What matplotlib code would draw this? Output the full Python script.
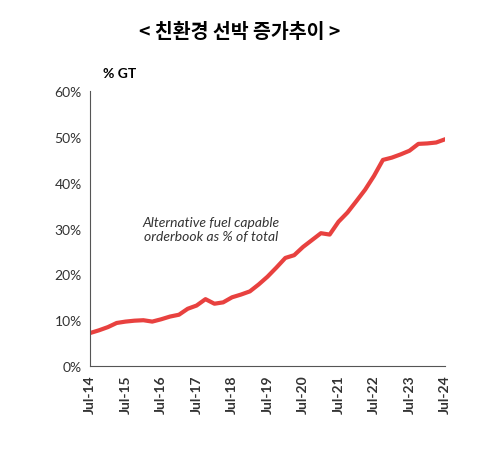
import matplotlib
matplotlib.use("Agg")
import matplotlib.pyplot as plt
import pandas as pd

plt.rcParams['font.family'] = ['Noto Sans CJK KR', 'DejaVu Sans']

values = [7.2, 7.8, 8.5, 9.4, 9.7, 9.9, 10.0, 9.7, 10.2, 10.8, 11.2, 12.5, 13.2, 14.6,
          13.6, 13.9, 15.0, 15.6, 16.3, 17.8, 19.5, 21.5, 23.6, 24.2, 26.0, 27.5, 29.0,
          28.7, 31.5, 33.5, 36.0, 38.5, 41.5, 45.0, 45.5, 46.2, 47.0, 48.5, 48.6, 48.8, 49.5]
dates = pd.date_range("2014-07-01", periods=len(values), freq="QS-JUL")
tick_years = list(range(2014, 2025))
tick_labels = [f"Jul-{y % 100:02d}" for y in tick_years]

fig = plt.figure(figsize=(4.79, 4.52), dpi=100)
ax = fig.add_axes([0.188, 0.188, 0.741, 0.608])
ax.plot(dates, values, color="#e8413f", lw=3)
ax.set_ylim(0, 60)
ax.set_xlim(pd.Timestamp("2014-07-01"), pd.Timestamp("2024-07-01"))
ax.set_yticks(range(0, 61, 10))
ax.set_yticklabels([f"{v}%" for v in range(0, 61, 10)], fontsize=10, color="#333333", family="Lato")
ax.set_xticks([pd.Timestamp(f"{y}-07-01") for y in tick_years])
ax.set_xticklabels(tick_labels, rotation=90, fontsize=10, color="#333333", family="Lato", fontweight="bold")
for s in ["top", "right"]:
    ax.spines[s].set_visible(False)
for s in ["left", "bottom"]:
    ax.spines[s].set_color("#555555")
ax.tick_params(length=0, pad=6)
fig.text(0.5, 0.915, "< 친환경 선박 증가추이 >", ha="center", fontsize=14, fontweight="bold")
fig.text(0.215, 0.828, "% GT", fontsize=10, fontweight="bold", family="Lato")
ax.text(0.34, 0.50, "Alternative fuel capable\norderbook as % of total", transform=ax.transAxes,
        ha="center", va="center", fontsize=10, style="italic", color="#333333", family="Lato")
fig.savefig("out.png", dpi=100, facecolor="white")
